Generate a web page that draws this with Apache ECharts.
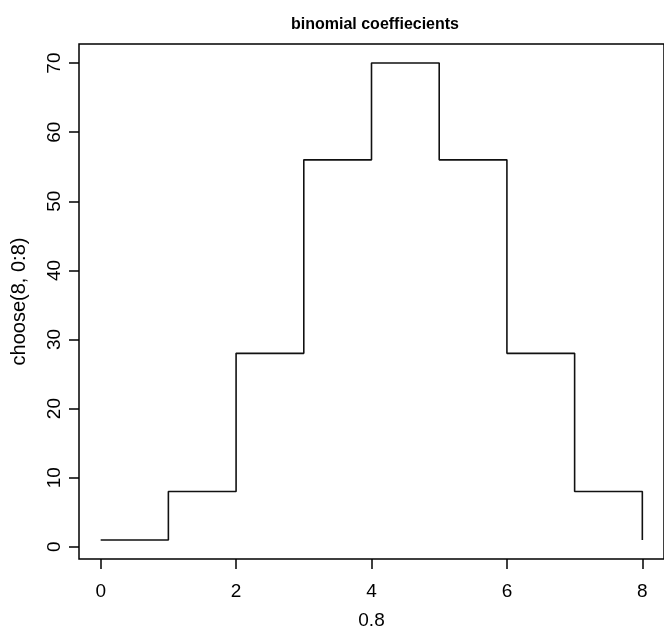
<!DOCTYPE html>
<html>
<head>
<meta charset="utf-8">
<script src="https://cdn.jsdelivr.net/npm/echarts@6/dist/echarts.min.js"></script>
<style>
html, body { margin: 0; padding: 0; background: #fff; }
#main { width: 664px; height: 635px; }
</style>
</head>
<body>
<div id="main"></div>
<script>
// binomial coefficients choose(8, 0:8)
var xValues = [0, 1, 2, 3, 4, 5, 6, 7, 8];
var yValues = [1, 8, 28, 56, 70, 56, 28, 8, 1];
var xTicks = [0, 2, 4, 6, 8];
var yTicks = [0, 10, 20, 30, 40, 50, 60, 70];

var chart = echarts.init(document.getElementById("main"));
var font = "Liberation Sans, Arial, Helvetica, sans-serif";

var points = [];
for (var i = 0; i < xValues.length; i++) {
	points.push([xValues[i], yValues[i]]);
}

var option = {
	animation: false,
	backgroundColor: "#fff",
	title: {
		text: "binomial coeffiecients",
		left: 370,
		top: 12,
		textAlign: "center",
		textStyle: { fontFamily: font, fontSize: 16, fontWeight: "bold", color: "#000" }
	},
	grid: {
		left: 79, top: 44, width: 591, height: 523,
		show: true, borderColor: "#000", borderWidth: 1.5, backgroundColor: "transparent"
	},
	xAxis: {
		type: "value",
		min: -0.32, max: 8.32,
		name: "0.8",
		nameLocation: "middle",
		nameGap: 52,
		nameTextStyle: { fontFamily: font, fontSize: 19, color: "#000", verticalAlign: "top" },
		axisLine: { show: false, onZero: false },
		splitLine: { show: false },
		axisTick: { show: true, inside: false, length: 10, customValues: xTicks, lineStyle: { color: "#000", width: 1.5 } },
		axisLabel: { customValues: xTicks, margin: 23, fontFamily: font, fontSize: 19, color: "#000" }
	},
	yAxis: {
		type: "value",
		min: -1.76, max: 72.76,
		name: "choose(8, 0:8)",
		nameLocation: "middle",
		nameGap: 50,
		nameRotate: 90,
		nameTextStyle: { fontFamily: font, fontSize: 20, color: "#000" },
		axisLine: { show: false, onZero: false },
		splitLine: { show: false },
		axisTick: { show: true, inside: false, length: 10, customValues: yTicks, lineStyle: { color: "#000", width: 1.5 } },
		axisLabel: { customValues: yTicks, rotate: 90, margin: 15, fontFamily: font, fontSize: 19, color: "#000" }
	},
	series: [{
		type: "line",
		step: "end",
		data: points,
		symbol: "none",
		lineStyle: { color: "#111", width: 1.6 }
	}]
};
chart.setOption(option);
</script>
</body>
</html>
